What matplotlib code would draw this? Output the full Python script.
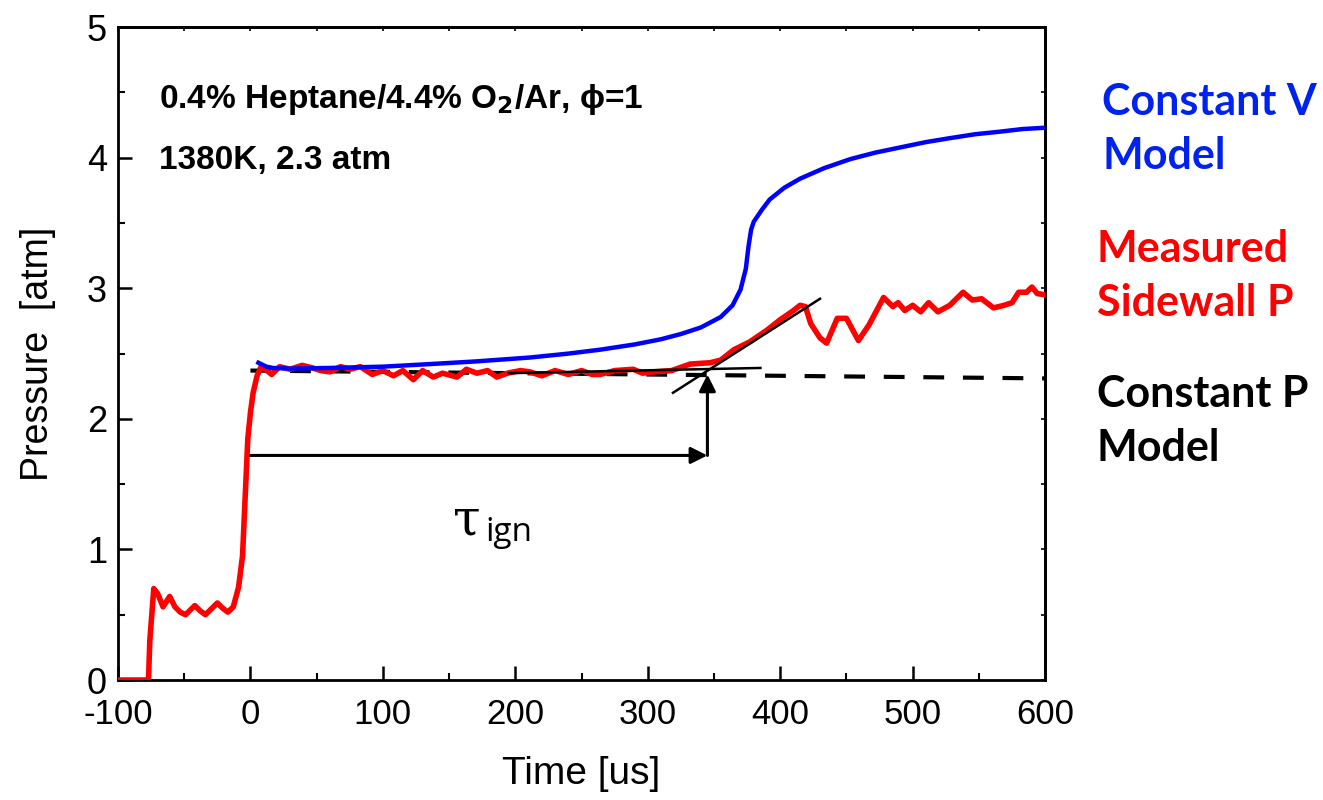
import matplotlib.pyplot as plt
from matplotlib.ticker import MultipleLocator
import numpy as np

plt.rcParams['font.family'] = ['Liberation Sans', 'DejaVu Sans']
plt.rcParams['axes.unicode_minus'] = False

# measured sidewall pressure (red)
t_meas = [-100, -77, -76, -73, -70, -66, -61, -57, -53, -49, -45, -42, -38, -34, -30, -25, -21, -17,
          -13, -9, -6, -4, -2, 0, 2, 5, 8, 10, 16, 22, 30, 39, 47, 53, 60, 68, 75, 83, 92, 100, 108,
          115, 123, 130, 138, 145, 156, 163, 171, 179, 186, 194, 204, 211, 220, 230, 240, 250, 258,
          264, 275, 289, 296, 304, 318, 332, 347, 355, 365, 377, 390, 400, 410, 415, 419, 423, 430,
          435, 443, 450, 459, 467, 478, 485, 489, 494, 500, 506, 512, 519, 528, 538, 545, 552, 561,
          569, 575, 580, 586, 590, 594, 600]
p_meas = [0.0, 0.0, 0.3, 0.70, 0.66, 0.56, 0.64, 0.56, 0.52, 0.50, 0.54, 0.57, 0.53, 0.50, 0.54, 0.59,
          0.55, 0.52, 0.56, 0.71, 0.95, 1.4, 1.85, 2.05, 2.2, 2.33, 2.40, 2.39, 2.34, 2.40, 2.38, 2.41,
          2.39, 2.37, 2.36, 2.40, 2.38, 2.40, 2.34, 2.37, 2.33, 2.37, 2.30, 2.37, 2.32, 2.35, 2.32, 2.38,
          2.35, 2.37, 2.32, 2.35, 2.37, 2.36, 2.33, 2.37, 2.34, 2.37, 2.34, 2.34, 2.37, 2.38, 2.35,
          2.36, 2.37, 2.42, 2.43, 2.45, 2.53, 2.59, 2.68, 2.76, 2.83, 2.87, 2.86, 2.73, 2.62, 2.58,
          2.77, 2.77, 2.60, 2.72, 2.93, 2.86, 2.89, 2.83, 2.87, 2.82, 2.89, 2.82, 2.87, 2.97, 2.91,
          2.92, 2.85, 2.87, 2.89, 2.97, 2.97, 3.01, 2.96, 2.95]

# constant V model (blue)
t_cv = [6, 12, 17, 30, 60, 100, 136, 170, 211, 240, 264, 290, 310, 325, 340, 355, 364, 370, 374,
        376, 378, 380, 386, 392, 403, 415, 433, 453, 472, 491, 510, 528, 547, 566, 583, 600]
p_cv = [2.43, 2.40, 2.39, 2.385, 2.39, 2.40, 2.42, 2.44, 2.47, 2.50, 2.53, 2.57, 2.61, 2.65, 2.70,
        2.78, 2.87, 2.99, 3.15, 3.32, 3.45, 3.51, 3.60, 3.68, 3.77, 3.84, 3.92, 3.99, 4.04, 4.08,
        4.12, 4.15, 4.18, 4.20, 4.22, 4.23]

# constant P model (black dashed)
t_cp = [0, 600]
p_cp = [2.37, 2.31]

# tangent lines and ignition delay arrow
tan_flat_t = [195, 385]
tan_flat_p = [2.35, 2.39]
tan_rise_t = [319, 430]
tan_rise_p = [2.20, 2.92]
t_ign = 345
p_arrow = 1.72
p_ign = 2.34

fig = plt.figure(figsize=(13.23, 8), dpi=100)
ax = fig.add_axes([0.0892, 0.15, 0.7008, 0.816])

ax.plot(t_cp, p_cp, color='black', lw=3, ls=(0, (5, 4.5)), zorder=2)
ax.plot(t_meas, p_meas, color='#ff0000', lw=4, zorder=3, solid_joinstyle='round')
ax.plot(t_cv, p_cv, color='#0000ff', lw=3.2, zorder=4)
ax.plot(tan_flat_t, tan_flat_p, color='black', lw=1.8, zorder=5)
ax.plot(tan_rise_t, tan_rise_p, color='black', lw=1.8, zorder=5)

ax.annotate('', xy=(t_ign, p_arrow), xytext=(0, p_arrow),
            arrowprops=dict(arrowstyle='-|>', color='black', lw=2.2, mutation_scale=25,
                            shrinkA=0, shrinkB=0), zorder=6)
ax.annotate('', xy=(t_ign, p_ign), xytext=(t_ign, p_arrow),
            arrowprops=dict(arrowstyle='-|>', color='black', lw=2.2, mutation_scale=25,
                            shrinkA=0, shrinkB=0), zorder=6)

ax.text(153, 1.22, 'τ', fontsize=36, family=['DejaVu Serif'], va='center', ha='left')
ax.text(177, 1.13, 'ign', fontsize=24, family=['Open Sans'], va='center', ha='left')

ax.text(-69, 4.45, '0.4% Heptane/4.4% O$_\\mathbf{2}$/Ar, ϕ=1', fontsize=24, fontweight='bold',
        va='center', ha='left')
ax.text(-69, 3.98, '1380K, 2.3 atm', fontsize=24, fontweight='bold', va='center', ha='left')

lab = dict(fontsize=31, fontweight='bold', family=['Lato', 'DejaVu Sans'], ha='left', va='center',
           linespacing=1.42)
fig.text(0.833, 0.839, 'Constant V\nModel', color='#0022ee', **lab)
fig.text(0.829, 0.655, 'Measured\nSidewall P', color='#ff0000', **lab)
fig.text(0.829, 0.474, 'Constant P\nModel', color='black', **lab)

ax.set_xlim(-100, 600)
ax.set_ylim(0, 5)
ax.xaxis.set_major_locator(MultipleLocator(100))
ax.xaxis.set_minor_locator(MultipleLocator(50))
ax.yaxis.set_major_locator(MultipleLocator(1))
ax.yaxis.set_minor_locator(MultipleLocator(0.5))
ax.tick_params(which='major', direction='in', length=10, width=1.8, labelsize=26, pad=8)
ax.tick_params(which='minor', direction='in', length=5, width=1.5)
ax.tick_params(axis='x', which='major', labelsize=25, pad=13)
for spine in ax.spines.values():
    spine.set_linewidth(2)

# small ticks on top and right
top = ax.secondary_xaxis('top')
top.xaxis.set_major_locator(MultipleLocator(50))
top.tick_params(direction='in', length=3, width=1.2, labeltop=False)
right = ax.secondary_yaxis('right')
right.yaxis.set_major_locator(MultipleLocator(0.5))
right.tick_params(direction='in', length=3, width=1.2, labelright=False)
top.spines['top'].set_linewidth(2)
right.spines['right'].set_linewidth(2)

ax.set_xlabel('Time [us]', fontsize=28, labelpad=18)
ax.set_ylabel('Pressure  [atm]', fontsize=27, labelpad=22)

fig.savefig('out.png', dpi=100)
